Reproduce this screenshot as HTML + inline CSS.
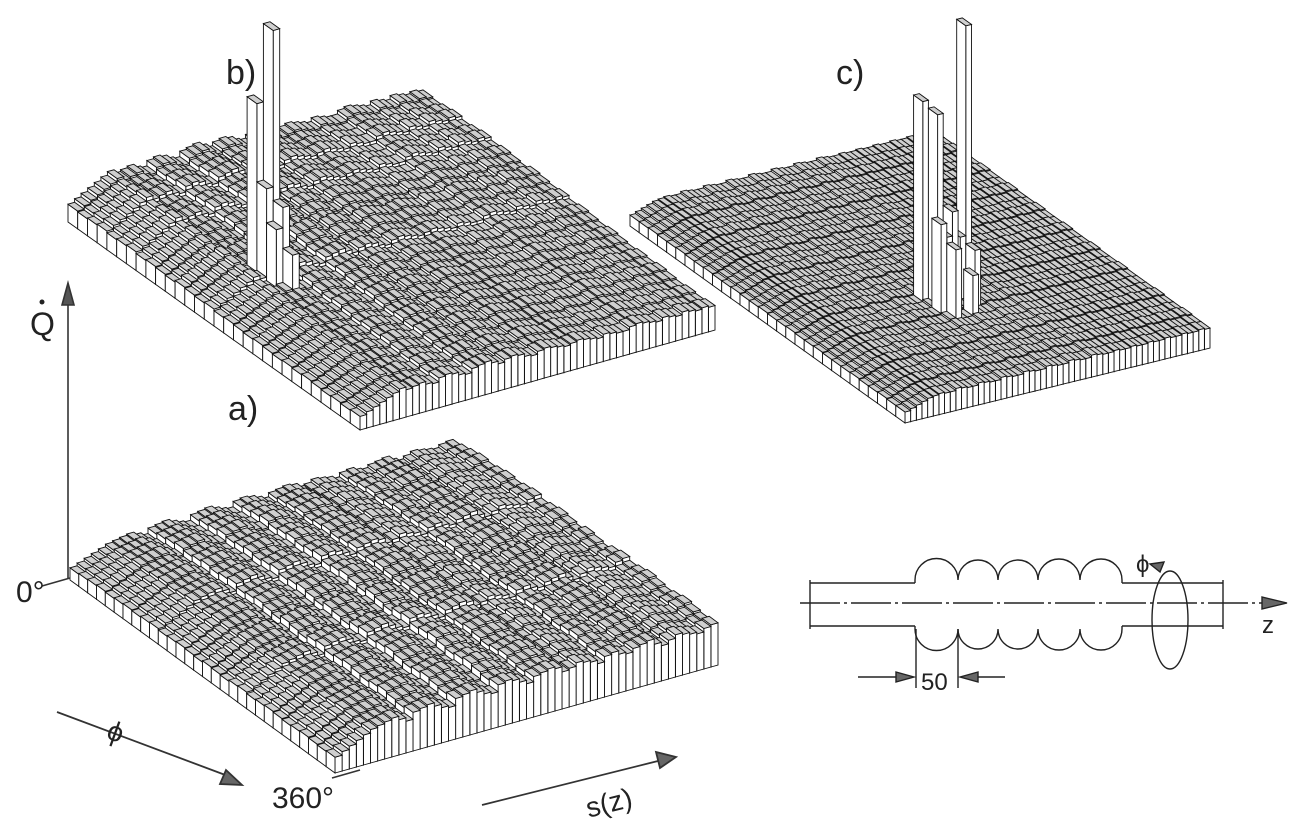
<!DOCTYPE html>
<html><head><meta charset="utf-8">
<style>
html,body{margin:0;padding:0;background:#fff;}
svg{display:block;}
text{font-family:"Liberation Sans","DejaVu Sans",sans-serif;fill:#222;}
</style></head>
<body>
<svg id="fig" width="1308" height="833" viewBox="0 0 1308 833" xmlns="http://www.w3.org/2000/svg">
  <rect width="1308" height="833" fill="#fff"/>
  <g id="panel-a"></g>
  <g id="panel-b"></g>
  <g id="panel-c"></g>

  <text x="228" y="420" font-size="34">a)</text>
  <text x="226" y="84" font-size="34">b)</text>
  <text x="836" y="84" font-size="34">c)</text>

  <g stroke="#333" stroke-width="1.6" fill="#555">
    <line x1="68" y1="578" x2="68" y2="300"/>
    <polygon points="68,283 62,305 74,305"/>
    <line x1="42" y1="586" x2="70" y2="578"/>
    <line x1="332" y1="778" x2="360" y2="770"/>
  </g>
  <text x="30" y="335" font-size="32">Q</text>
  <circle cx="42" cy="302" r="2.5" fill="#222"/>
  <text x="16" y="602" font-size="30">0°</text>
  <text x="272" y="808" font-size="30">360°</text>

  <g stroke="#333" stroke-width="1.8" fill="#666">
    <line x1="57" y1="712" x2="228" y2="776"/>
    <polygon points="242,785 220,784 226,770"/>
  </g>
  <text x="108" y="742" font-size="28" transform="rotate(20 118 732)">ϕ</text>
  <g stroke="#333" stroke-width="1.8" fill="#666">
    <line x1="482" y1="805" x2="662" y2="760"/>
    <polygon points="676,757 656,752 660,768"/>
  </g>
  <text x="585" y="812" font-size="28" transform="rotate(-14 610 800)">s(z)</text>

  <g stroke="#222" stroke-width="1.4" fill="none">
    <line x1="800" y1="603" x2="1270" y2="603" stroke-dasharray="40 4 3 4"/>
    <polygon points="1287,603 1262,597 1262,609" fill="#666"/>
    <path d="M810,583 H915 M1122,583 H1223 M810,626 H915 M1122,626 H1223 M810,580 V629 M1223,580 V629"/>
    <path d="M915,583 V580 A20,20 0 0 1 958,580 A20,20 0 0 1 998,580 A20,20 0 0 1 1038,580 A20,20 0 0 1 1080,580 A20,20 0 0 1 1122,580 V583"/>
    <path d="M915,626 V629 A20,20 0 0 0 958,629 A20,20 0 0 0 998,629 A20,20 0 0 0 1038,629 A20,20 0 0 0 1080,629 A20,20 0 0 0 1122,629 V626"/>
    <line x1="916" y1="629" x2="916" y2="688"/>
    <line x1="958" y1="629" x2="958" y2="688"/>
    <line x1="858" y1="677" x2="900" y2="677"/>
    <polygon points="914,677 896,672 896,682" fill="#666"/>
    <line x1="975" y1="677" x2="1005" y2="677"/>
    <polygon points="960,677 978,672 978,682" fill="#666"/>
    <ellipse cx="1170" cy="620" rx="18" ry="49"/>
    <polygon points="1160,572 1150,564 1164,562" fill="#666"/>
  </g>
  <text x="921" y="690" font-size="24">50</text>
  <text x="1262" y="633" font-size="24">z</text>
  <text x="1136" y="572" font-size="24">ϕ</text>
</svg>
<script>
// ---- panel a data (phi rows x z columns) ----
const rowA = [0.85,0.9,0.95,1.0,0.95,1.0,1.05,1.0,1.05,1.1,1.0,1.05,1.1,1.05,1.0,1.1,1.05,1.0,1.1,1.15,1.05,1.1,1.15,1.1,1.05,1.1,1.15,1.1,1.05,1.1];
const colA = [0.45,0.55,0.65,0.75,0.85,0.95,1.0,1.05,1.1,1.0,0.9,1.1,1.15,1.2,1.1,1.0,0.95,1.15,1.2,1.25,1.15,1.05,1.0,1.2,1.25,1.2,1.1,1.0,1.15,1.2,1.25,1.2,1.05,1.1,1.2,1.15,1.1,1.0,1.15,1.2,1.1,1.05,1.15,1.2,1.25,1.1,1.0,1.1,1.2,1.15,1.1,1.05,1.15,1.2];
// ---- panel b data ----
const rowB = [1.05,1.0,1.05,1.1,1.0,1.05,1.1,1.0,1.05,1.0,0.95,1.05,1.0,0.95,1.0,0.9,0.95,0.9,0.85,0.9,0.85,0.8,0.85,0.8,0.85,0.8,0.75,0.8,0.75,0.8];
const colB = [0.5,0.6,0.7,0.8,0.9,1.0,1.1,1.0,1.05,1.1,1.0,0.95,1.1,1.15,1.1,1.0,0.95,1.1,1.15,1.2,1.1,1.0,1.1,1.15,1.1,1.0,0.95,1.05,1.1,1.05,1.0,0.95,1.0,1.05,1.0,0.95,0.9,1.0,0.95,0.9,0.9,1.0,1.05,1.0,0.95,0.9,1.0,0.95,0.9,1.0,0.95,0.9,0.95,0.9];
const spikeRowB = [14,13,14,15,15,14,13,16];
const spikeColB = [9,8,8,9,8,10,9,9];
const spikeValB = [8.2,5.9,3.6,3.2,2.6,2.4,2.2,2.0];
// ---- panel c data ----
const rowC = [1.0,1.0,1.05,1.0,1.0,1.05,1.0,1.0,1.05,1.0,1.0,1.05,1.0,1.0,1.05,1.0,1.0,1.05,1.0,1.0,1.05,1.0,1.0,1.0,1.05,1.0,1.0,1.05,1.0,1.0];
const colC = [0.55,0.65,0.75,0.85,0.95,1.0,1.05,1.0,1.0,1.1,1.05,1.0,1.0,1.1,1.05,1.0,1.0,1.1,1.05,1.0,1.0,1.1,1.05,1.0,1.0,1.1,1.05,1.0,1.0,1.1,1.05,1.0,1.0,1.1,1.05,1.0,1.0,1.05,1.0,1.0,1.05,1.0,1.0,1.05,1.0,1.0,1.05,1.0,1.0,1.05,1.0,1.0,1.05,1.0];
const spikeRowC = [19,18,19,20,20,21,19,20,21,18,20];
const spikeColC = [27,21,22,21,23,22,26,27,25,26,22];
const spikeValC = [14.7,11.0,10.6,5.5,6.0,4.5,4.2,3.8,3.0,3.4,4.8];

const NS = 'http://www.w3.org/2000/svg';
function drawPanel(gid, origin, phiVec, zVec, rows, cols, scale, sRow, sCol, sVal) {
  const g = document.getElementById(gid);
  const N = rows.length, M = cols.length;
  const H = [];
  for (let i = 0; i < N; i++) { H.push([]); for (let j = 0; j < M; j++) H[i].push(rows[i] * cols[j] * scale); }
  for (let k = 0; k < sRow.length; k++) H[sRow[k]][sCol[k]] = sVal[k] * scale;
  const P = (i, j) => [origin[0] + phiVec[0] * i / N + zVec[0] * j / M, origin[1] + phiVec[1] * i / N + zVec[1] * j / M];
  const pts = arr => arr.map(p => p[0].toFixed(1) + ',' + p[1].toFixed(1)).join(' ');
  const up = (p, h) => [p[0], p[1] - h];
  const fills = ['#fff', '#fff', '#cfcfcf'];
  for (let i = 0; i < N; i++) {
    for (let j = M - 1; j >= 0; j--) {
      const h = H[i][j];
      const a = P(i, j), b = P(i, j + 1), c = P(i + 1, j + 1), d = P(i + 1, j);
      const bar = document.createElementNS(NS, 'g');
      
      
      const faces = [[d, c, up(c, h), up(d, h)], [a, d, up(d, h), up(a, h)], [up(a, h), up(b, h), up(c, h), up(d, h)]];
      faces.forEach((f, k) => {
        const pl = document.createElementNS(NS, 'polygon');
        pl.setAttribute('points', pts(f));
        pl.setAttribute('fill', fills[k]);
        pl.setAttribute('stroke', '#111');
        pl.setAttribute('stroke-width', '0.9');
        bar.appendChild(pl);
      });
      g.appendChild(bar);
    }
  }
}
drawPanel('panel-a', [70, 580], [265, 193], [383, -108], rowA, colA, 32, [], [], []);
drawPanel('panel-b', [68, 222], [292, 208], [355, -100], rowB, colB, 34, spikeRowB, spikeColB, spikeValB);
drawPanel('panel-c', [630, 226], [275, 197], [305, -75], rowC, colC, 20, spikeRowC, spikeColC, spikeValC);
</script>
</body></html>
